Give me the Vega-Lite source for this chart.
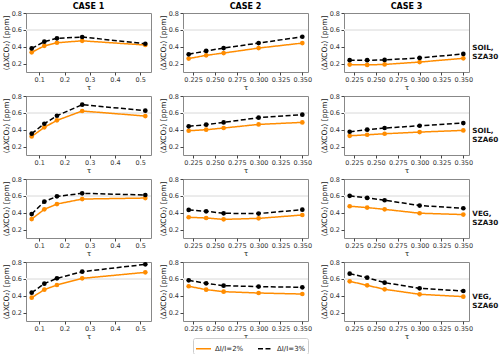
{
  "$schema": "https://vega.github.io/schema/vega-lite/v6.json",
  "padding": {"left": 2, "top": 3, "right": 1, "bottom": 1},
  "config": {
    "font": "DejaVu Sans",
    "view": {"stroke": "#888888", "strokeWidth": 1},
    "axis": {
      "domain": false, "grid": false, "tickSize": 3, "tickColor": "#444444",
      "labelFontSize": 6.5, "labelColor": "#333333", "labelPadding": 1.5,
      "titleFontSize": 7.5, "titleFontWeight": "normal", "titleColor": "#222222", "titlePadding": 0.5
    },
    "legend": {
      "orient": "none", "legendX": 167, "legendY": 325, "direction": "horizontal", "symbolType": "stroke", "symbolSize": 225,
      "symbolStrokeWidth": 1.5, "labelFontSize": 7, "labelColor": "#222222", "columnPadding": 11, "labelOffset": 3,
      "strokeColor": "#cccccc", "padding": 2, "cornerRadius": 2
    }
  },
  "data": {"values": [
    {"c":"CASE 1","s":"SOIL, SZA30","t":0.07,"g":"ΔI/I=2%","v":0.333},
    {"c":"CASE 1","s":"SOIL, SZA30","t":0.12,"g":"ΔI/I=2%","v":0.41},
    {"c":"CASE 1","s":"SOIL, SZA30","t":0.17,"g":"ΔI/I=2%","v":0.447},
    {"c":"CASE 1","s":"SOIL, SZA30","t":0.27,"g":"ΔI/I=2%","v":0.47},
    {"c":"CASE 1","s":"SOIL, SZA30","t":0.52,"g":"ΔI/I=2%","v":0.42},
    {"c":"CASE 1","s":"SOIL, SZA30","t":0.07,"g":"ΔI/I=3%","v":0.38},
    {"c":"CASE 1","s":"SOIL, SZA30","t":0.12,"g":"ΔI/I=3%","v":0.46},
    {"c":"CASE 1","s":"SOIL, SZA30","t":0.17,"g":"ΔI/I=3%","v":0.50},
    {"c":"CASE 1","s":"SOIL, SZA30","t":0.27,"g":"ΔI/I=3%","v":0.515},
    {"c":"CASE 1","s":"SOIL, SZA30","t":0.52,"g":"ΔI/I=3%","v":0.435},
    {"c":"CASE 1","s":"SOIL, SZA60","t":0.07,"g":"ΔI/I=2%","v":0.32},
    {"c":"CASE 1","s":"SOIL, SZA60","t":0.12,"g":"ΔI/I=2%","v":0.428},
    {"c":"CASE 1","s":"SOIL, SZA60","t":0.17,"g":"ΔI/I=2%","v":0.511},
    {"c":"CASE 1","s":"SOIL, SZA60","t":0.27,"g":"ΔI/I=2%","v":0.622},
    {"c":"CASE 1","s":"SOIL, SZA60","t":0.52,"g":"ΔI/I=2%","v":0.562},
    {"c":"CASE 1","s":"SOIL, SZA60","t":0.07,"g":"ΔI/I=3%","v":0.353},
    {"c":"CASE 1","s":"SOIL, SZA60","t":0.12,"g":"ΔI/I=3%","v":0.471},
    {"c":"CASE 1","s":"SOIL, SZA60","t":0.17,"g":"ΔI/I=3%","v":0.566},
    {"c":"CASE 1","s":"SOIL, SZA60","t":0.27,"g":"ΔI/I=3%","v":0.697},
    {"c":"CASE 1","s":"SOIL, SZA60","t":0.52,"g":"ΔI/I=3%","v":0.626},
    {"c":"CASE 1","s":"VEG, SZA30","t":0.07,"g":"ΔI/I=2%","v":0.325},
    {"c":"CASE 1","s":"VEG, SZA30","t":0.12,"g":"ΔI/I=2%","v":0.44},
    {"c":"CASE 1","s":"VEG, SZA30","t":0.17,"g":"ΔI/I=2%","v":0.503},
    {"c":"CASE 1","s":"VEG, SZA30","t":0.27,"g":"ΔI/I=2%","v":0.562},
    {"c":"CASE 1","s":"VEG, SZA30","t":0.52,"g":"ΔI/I=2%","v":0.574},
    {"c":"CASE 1","s":"VEG, SZA30","t":0.07,"g":"ΔI/I=3%","v":0.384},
    {"c":"CASE 1","s":"VEG, SZA30","t":0.12,"g":"ΔI/I=3%","v":0.531},
    {"c":"CASE 1","s":"VEG, SZA30","t":0.17,"g":"ΔI/I=3%","v":0.594},
    {"c":"CASE 1","s":"VEG, SZA30","t":0.27,"g":"ΔI/I=3%","v":0.63},
    {"c":"CASE 1","s":"VEG, SZA30","t":0.52,"g":"ΔI/I=3%","v":0.61},
    {"c":"CASE 1","s":"VEG, SZA60","t":0.07,"g":"ΔI/I=2%","v":0.377},
    {"c":"CASE 1","s":"VEG, SZA60","t":0.12,"g":"ΔI/I=2%","v":0.472},
    {"c":"CASE 1","s":"VEG, SZA60","t":0.17,"g":"ΔI/I=2%","v":0.527},
    {"c":"CASE 1","s":"VEG, SZA60","t":0.27,"g":"ΔI/I=2%","v":0.606},
    {"c":"CASE 1","s":"VEG, SZA60","t":0.52,"g":"ΔI/I=2%","v":0.677},
    {"c":"CASE 1","s":"VEG, SZA60","t":0.07,"g":"ΔI/I=3%","v":0.436},
    {"c":"CASE 1","s":"VEG, SZA60","t":0.12,"g":"ΔI/I=3%","v":0.543},
    {"c":"CASE 1","s":"VEG, SZA60","t":0.17,"g":"ΔI/I=3%","v":0.606},
    {"c":"CASE 1","s":"VEG, SZA60","t":0.27,"g":"ΔI/I=3%","v":0.685},
    {"c":"CASE 1","s":"VEG, SZA60","t":0.52,"g":"ΔI/I=3%","v":0.772},

    {"c":"CASE 2","s":"SOIL, SZA30","t":0.22,"g":"ΔI/I=2%","v":0.259},
    {"c":"CASE 2","s":"SOIL, SZA30","t":0.24,"g":"ΔI/I=2%","v":0.298},
    {"c":"CASE 2","s":"SOIL, SZA30","t":0.26,"g":"ΔI/I=2%","v":0.325},
    {"c":"CASE 2","s":"SOIL, SZA30","t":0.30,"g":"ΔI/I=2%","v":0.384},
    {"c":"CASE 2","s":"SOIL, SZA30","t":0.35,"g":"ΔI/I=2%","v":0.443},
    {"c":"CASE 2","s":"SOIL, SZA30","t":0.22,"g":"ΔI/I=3%","v":0.31},
    {"c":"CASE 2","s":"SOIL, SZA30","t":0.24,"g":"ΔI/I=3%","v":0.35},
    {"c":"CASE 2","s":"SOIL, SZA30","t":0.26,"g":"ΔI/I=3%","v":0.384},
    {"c":"CASE 2","s":"SOIL, SZA30","t":0.30,"g":"ΔI/I=3%","v":0.443},
    {"c":"CASE 2","s":"SOIL, SZA30","t":0.35,"g":"ΔI/I=3%","v":0.518},
    {"c":"CASE 2","s":"SOIL, SZA60","t":0.22,"g":"ΔI/I=2%","v":0.388},
    {"c":"CASE 2","s":"SOIL, SZA60","t":0.24,"g":"ΔI/I=2%","v":0.40},
    {"c":"CASE 2","s":"SOIL, SZA60","t":0.26,"g":"ΔI/I=2%","v":0.42},
    {"c":"CASE 2","s":"SOIL, SZA60","t":0.30,"g":"ΔI/I=2%","v":0.463},
    {"c":"CASE 2","s":"SOIL, SZA60","t":0.35,"g":"ΔI/I=2%","v":0.487},
    {"c":"CASE 2","s":"SOIL, SZA60","t":0.22,"g":"ΔI/I=3%","v":0.44},
    {"c":"CASE 2","s":"SOIL, SZA60","t":0.24,"g":"ΔI/I=3%","v":0.46},
    {"c":"CASE 2","s":"SOIL, SZA60","t":0.26,"g":"ΔI/I=3%","v":0.487},
    {"c":"CASE 2","s":"SOIL, SZA60","t":0.30,"g":"ΔI/I=3%","v":0.543},
    {"c":"CASE 2","s":"SOIL, SZA60","t":0.35,"g":"ΔI/I=3%","v":0.578},
    {"c":"CASE 2","s":"VEG, SZA30","t":0.22,"g":"ΔI/I=2%","v":0.346},
    {"c":"CASE 2","s":"VEG, SZA30","t":0.24,"g":"ΔI/I=2%","v":0.337},
    {"c":"CASE 2","s":"VEG, SZA30","t":0.26,"g":"ΔI/I=2%","v":0.321},
    {"c":"CASE 2","s":"VEG, SZA30","t":0.30,"g":"ΔI/I=2%","v":0.333},
    {"c":"CASE 2","s":"VEG, SZA30","t":0.35,"g":"ΔI/I=2%","v":0.373},
    {"c":"CASE 2","s":"VEG, SZA30","t":0.22,"g":"ΔI/I=3%","v":0.433},
    {"c":"CASE 2","s":"VEG, SZA30","t":0.24,"g":"ΔI/I=3%","v":0.417},
    {"c":"CASE 2","s":"VEG, SZA30","t":0.26,"g":"ΔI/I=3%","v":0.393},
    {"c":"CASE 2","s":"VEG, SZA30","t":0.30,"g":"ΔI/I=3%","v":0.39},
    {"c":"CASE 2","s":"VEG, SZA30","t":0.35,"g":"ΔI/I=3%","v":0.436},
    {"c":"CASE 2","s":"VEG, SZA60","t":0.22,"g":"ΔI/I=2%","v":0.512},
    {"c":"CASE 2","s":"VEG, SZA60","t":0.24,"g":"ΔI/I=2%","v":0.472},
    {"c":"CASE 2","s":"VEG, SZA60","t":0.26,"g":"ΔI/I=2%","v":0.448},
    {"c":"CASE 2","s":"VEG, SZA60","t":0.30,"g":"ΔI/I=2%","v":0.432},
    {"c":"CASE 2","s":"VEG, SZA60","t":0.35,"g":"ΔI/I=2%","v":0.42},
    {"c":"CASE 2","s":"VEG, SZA60","t":0.22,"g":"ΔI/I=3%","v":0.583},
    {"c":"CASE 2","s":"VEG, SZA60","t":0.24,"g":"ΔI/I=3%","v":0.547},
    {"c":"CASE 2","s":"VEG, SZA60","t":0.26,"g":"ΔI/I=3%","v":0.519},
    {"c":"CASE 2","s":"VEG, SZA60","t":0.30,"g":"ΔI/I=3%","v":0.508},
    {"c":"CASE 2","s":"VEG, SZA60","t":0.35,"g":"ΔI/I=3%","v":0.50},

    {"c":"CASE 3","s":"SOIL, SZA30","t":0.22,"g":"ΔI/I=2%","v":0.188},
    {"c":"CASE 3","s":"SOIL, SZA30","t":0.24,"g":"ΔI/I=2%","v":0.184},
    {"c":"CASE 3","s":"SOIL, SZA30","t":0.26,"g":"ΔI/I=2%","v":0.19},
    {"c":"CASE 3","s":"SOIL, SZA30","t":0.30,"g":"ΔI/I=2%","v":0.218},
    {"c":"CASE 3","s":"SOIL, SZA30","t":0.35,"g":"ΔI/I=2%","v":0.262},
    {"c":"CASE 3","s":"SOIL, SZA30","t":0.22,"g":"ΔI/I=3%","v":0.24},
    {"c":"CASE 3","s":"SOIL, SZA30","t":0.24,"g":"ΔI/I=3%","v":0.24},
    {"c":"CASE 3","s":"SOIL, SZA30","t":0.26,"g":"ΔI/I=3%","v":0.243},
    {"c":"CASE 3","s":"SOIL, SZA30","t":0.30,"g":"ΔI/I=3%","v":0.267},
    {"c":"CASE 3","s":"SOIL, SZA30","t":0.35,"g":"ΔI/I=3%","v":0.314},
    {"c":"CASE 3","s":"SOIL, SZA60","t":0.22,"g":"ΔI/I=2%","v":0.328},
    {"c":"CASE 3","s":"SOIL, SZA60","t":0.24,"g":"ΔI/I=2%","v":0.34},
    {"c":"CASE 3","s":"SOIL, SZA60","t":0.26,"g":"ΔI/I=2%","v":0.352},
    {"c":"CASE 3","s":"SOIL, SZA60","t":0.30,"g":"ΔI/I=2%","v":0.372},
    {"c":"CASE 3","s":"SOIL, SZA60","t":0.35,"g":"ΔI/I=2%","v":0.392},
    {"c":"CASE 3","s":"SOIL, SZA60","t":0.22,"g":"ΔI/I=3%","v":0.376},
    {"c":"CASE 3","s":"SOIL, SZA60","t":0.24,"g":"ΔI/I=3%","v":0.40},
    {"c":"CASE 3","s":"SOIL, SZA60","t":0.26,"g":"ΔI/I=3%","v":0.42},
    {"c":"CASE 3","s":"SOIL, SZA60","t":0.30,"g":"ΔI/I=3%","v":0.447},
    {"c":"CASE 3","s":"SOIL, SZA60","t":0.35,"g":"ΔI/I=3%","v":0.479},
    {"c":"CASE 3","s":"VEG, SZA30","t":0.22,"g":"ΔI/I=2%","v":0.477},
    {"c":"CASE 3","s":"VEG, SZA30","t":0.24,"g":"ΔI/I=2%","v":0.461},
    {"c":"CASE 3","s":"VEG, SZA30","t":0.26,"g":"ΔI/I=2%","v":0.44},
    {"c":"CASE 3","s":"VEG, SZA30","t":0.30,"g":"ΔI/I=2%","v":0.394},
    {"c":"CASE 3","s":"VEG, SZA30","t":0.35,"g":"ΔI/I=2%","v":0.378},
    {"c":"CASE 3","s":"VEG, SZA30","t":0.22,"g":"ΔI/I=3%","v":0.60},
    {"c":"CASE 3","s":"VEG, SZA30","t":0.24,"g":"ΔI/I=3%","v":0.576},
    {"c":"CASE 3","s":"VEG, SZA30","t":0.26,"g":"ΔI/I=3%","v":0.548},
    {"c":"CASE 3","s":"VEG, SZA30","t":0.30,"g":"ΔI/I=3%","v":0.485},
    {"c":"CASE 3","s":"VEG, SZA30","t":0.35,"g":"ΔI/I=3%","v":0.453},
    {"c":"CASE 3","s":"VEG, SZA60","t":0.22,"g":"ΔI/I=2%","v":0.571},
    {"c":"CASE 3","s":"VEG, SZA60","t":0.24,"g":"ΔI/I=2%","v":0.523},
    {"c":"CASE 3","s":"VEG, SZA60","t":0.26,"g":"ΔI/I=2%","v":0.476},
    {"c":"CASE 3","s":"VEG, SZA60","t":0.30,"g":"ΔI/I=2%","v":0.417},
    {"c":"CASE 3","s":"VEG, SZA60","t":0.35,"g":"ΔI/I=2%","v":0.389},
    {"c":"CASE 3","s":"VEG, SZA60","t":0.22,"g":"ΔI/I=3%","v":0.662},
    {"c":"CASE 3","s":"VEG, SZA60","t":0.24,"g":"ΔI/I=3%","v":0.614},
    {"c":"CASE 3","s":"VEG, SZA60","t":0.26,"g":"ΔI/I=3%","v":0.555},
    {"c":"CASE 3","s":"VEG, SZA60","t":0.30,"g":"ΔI/I=3%","v":0.488},
    {"c":"CASE 3","s":"VEG, SZA60","t":0.35,"g":"ΔI/I=3%","v":0.456}
  ]},
  "spacing": 7,
  "hconcat": [
    {
      "transform": [{"filter": "datum.c == 'CASE 1'"}],
      "spacing": {"row": 0},
      "facet": {
        "column": {"field": "c", "type": "nominal", "header": {"title": null, "labelFontWeight": "bold", "labelFontSize": 8, "labelPadding": -2}},
        "row": {"field": "s", "type": "nominal", "header": {"title": null, "labels": false}}
      },
      "resolve": {"axis": {"x": "independent", "y": "independent"}},
      "spec": {
        "width": 125, "height": 59,
        "encoding": {
          "x": {"field": "t", "type": "quantitative", "title": "τ",
                "scale": {"domain": [0.0475, 0.5425], "nice": false, "zero": false},
                "axis": {"values": [0.1, 0.2, 0.3, 0.4, 0.5], "format": ".1f"}},
          "y": {"field": "v", "type": "quantitative", "title": "⟨ΔXCO₂⟩ [ppm]",
                "scale": {"domain": [0.1, 0.8], "nice": false, "zero": false},
                "axis": {"values": [0.2, 0.4, 0.6, 0.8], "format": ".1f"}}
        },
        "layer": [
          {"mark": {"type": "rule", "color": "#ebebeb", "strokeWidth": 1}, "encoding": {"x": null, "y": {"datum": 0.6, "type": "quantitative"}}},
          {"mark": {"type": "line", "strokeWidth": 1.5},
           "encoding": {
             "color": {"field": "g", "type": "nominal", "title": null, "scale": {"domain": ["ΔI/I=2%", "ΔI/I=3%"], "range": ["#ff8c00", "#000000"]}},
             "strokeDash": {"field": "g", "type": "nominal", "title": null, "scale": {"domain": ["ΔI/I=2%", "ΔI/I=3%"], "range": [[1, 0], [5, 2.5]]}}
           }},
          {"mark": {"type": "point", "filled": true, "opacity": 1, "size": 22},
           "encoding": {"color": {"field": "g", "type": "nominal", "title": null}}}
        ]
      }
    },
    {
      "transform": [{"filter": "datum.c == 'CASE 2'"}],
      "spacing": {"row": 0},
      "facet": {
        "column": {"field": "c", "type": "nominal", "header": {"title": null, "labelFontWeight": "bold", "labelFontSize": 8, "labelPadding": -2}},
        "row": {"field": "s", "type": "nominal", "header": {"title": null, "labels": false}}
      },
      "resolve": {"axis": {"x": "independent", "y": "independent"}},
      "spec": {
        "width": 125, "height": 59,
        "encoding": {
          "x": {"field": "t", "type": "quantitative", "title": "τ",
                "scale": {"domain": [0.2135, 0.3565], "nice": false, "zero": false},
                "axis": {"values": [0.225, 0.25, 0.275, 0.3, 0.325, 0.35], "format": ".3f"}},
          "y": {"field": "v", "type": "quantitative", "title": "⟨ΔXCO₂⟩ [ppm]",
                "scale": {"domain": [0.1, 0.8], "nice": false, "zero": false},
                "axis": {"values": [0.2, 0.4, 0.6, 0.8], "format": ".1f"}}
        },
        "layer": [
          {"mark": {"type": "rule", "color": "#ebebeb", "strokeWidth": 1}, "encoding": {"x": null, "y": {"datum": 0.6, "type": "quantitative"}}},
          {"mark": {"type": "line", "strokeWidth": 1.5},
           "encoding": {
             "color": {"field": "g", "type": "nominal", "title": null},
             "strokeDash": {"field": "g", "type": "nominal", "title": null}
           }},
          {"mark": {"type": "point", "filled": true, "opacity": 1, "size": 22},
           "encoding": {"color": {"field": "g", "type": "nominal", "title": null}}}
        ]
      }
    },
    {
      "transform": [{"filter": "datum.c == 'CASE 3'"}],
      "spacing": {"row": 0},
      "facet": {
        "column": {"field": "c", "type": "nominal", "header": {"title": null, "labelFontWeight": "bold", "labelFontSize": 8, "labelPadding": -2}},
        "row": {"field": "s", "type": "nominal", "header": {"title": null, "labels": false}}
      },
      "resolve": {"axis": {"x": "independent", "y": "independent"}},
      "spec": {
        "width": 125, "height": 59,
        "encoding": {
          "x": {"field": "t", "type": "quantitative", "title": "τ",
                "scale": {"domain": [0.2135, 0.3565], "nice": false, "zero": false},
                "axis": {"values": [0.225, 0.25, 0.275, 0.3, 0.325, 0.35], "format": ".3f"}},
          "y": {"field": "v", "type": "quantitative", "title": "⟨ΔXCO₂⟩ [ppm]",
                "scale": {"domain": [0.1, 0.8], "nice": false, "zero": false},
                "axis": {"values": [0.2, 0.4, 0.6, 0.8], "format": ".1f"}}
        },
        "layer": [
          {"mark": {"type": "rule", "color": "#ebebeb", "strokeWidth": 1}, "encoding": {"x": null, "y": {"datum": 0.6, "type": "quantitative"}}},
          {"mark": {"type": "line", "strokeWidth": 1.5},
           "encoding": {
             "color": {"field": "g", "type": "nominal", "title": null},
             "strokeDash": {"field": "g", "type": "nominal", "title": null}
           }},
          {"mark": {"type": "point", "filled": true, "opacity": 1, "size": 22},
           "encoding": {"color": {"field": "g", "type": "nominal", "title": null}}},
          {"transform": [{"filter": "datum.t == 0.35 && datum.g == 'ΔI/I=3%'"}],
           "mark": {"type": "text", "align": "left", "baseline": "middle", "dx": 9, "fontWeight": "bold", "fontSize": 7.2, "lineBreak": " ", "lineHeight": 8.5, "clip": false, "fill": "#111111"},
           "encoding": {"y": {"datum": 0.38, "type": "quantitative"}, "text": {"field": "s", "type": "nominal"}}}
        ]
      }
    }
  ],
  "resolve": {"scale": {"x": "independent"}}
}
